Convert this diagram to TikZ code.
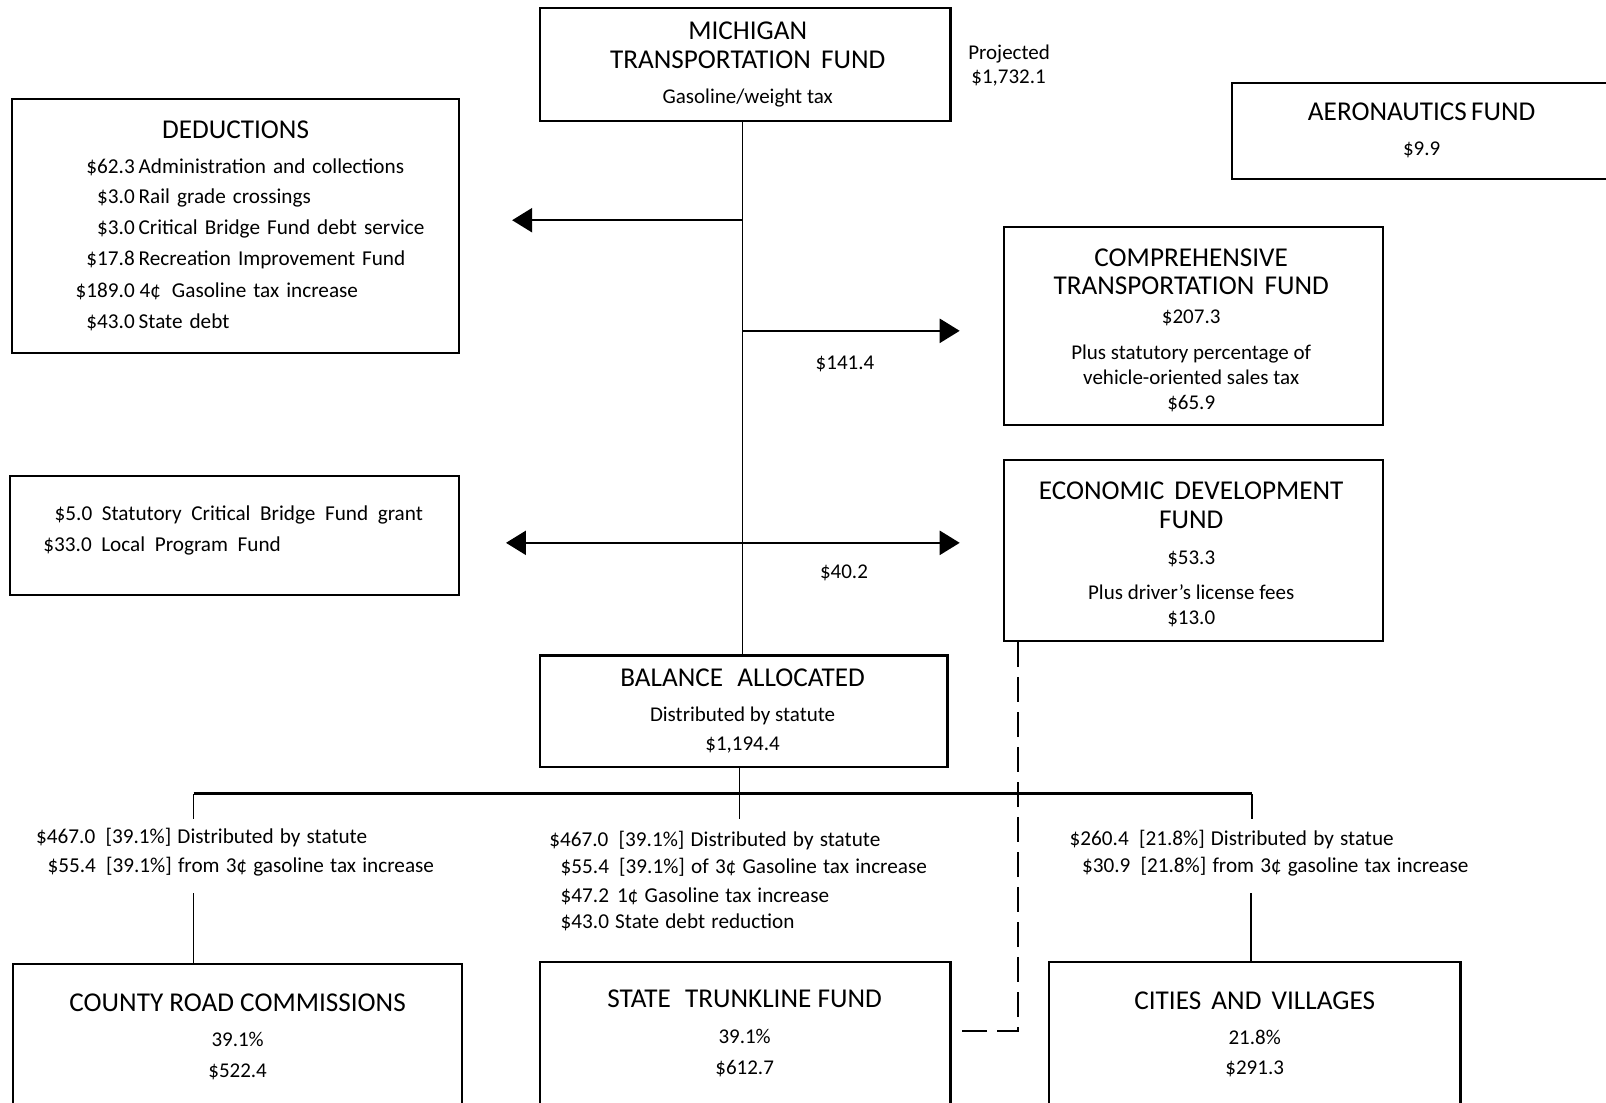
\documentclass[tikz,border=0pt]{standalone}
\usepackage{fontspec}
\setmainfont{Carlito}
\usetikzlibrary{arrows.meta,fit}
\newcommand\widesp{\spaceskip=3.5pt plus 1pt\relax}
\newcommand\labelSp{\spaceskip=3.1pt plus 1pt\relax}
\newcommand\widerSp{\spaceskip=4.8pt plus 1pt\relax}
\begin{document}
\begin{tikzpicture}[x=0.5121pt,y=-0.5121pt,
  box/.style={draw,line width=1.1pt,inner sep=0pt},
  ttl/.style={font=\fontsize{13.6}{15}\selectfont,anchor=base,inner sep=0pt},
  txt/.style={font=\fontsize{10.5}{12}\selectfont,anchor=base,inner sep=0pt},
  txtl/.style={txt,anchor=base west},
  txtw/.style={txtl,font=\fontsize{10.6}{12}\selectfont\widesp},
  txtb/.style={txtl,font=\fontsize{10.6}{12}\selectfont\labelSp},
  txtr/.style={txt,anchor=base east,font=\fontsize{10.6}{12}\selectfont},
  flow/.style={line width=0.9pt},
  bar/.style={line width=1.7pt},
  bigarrow/.style={line width=1.2pt,-{Triangle[length=10pt,width=12pt]}},
  dblarrow/.style={line width=1.2pt,{Triangle[length=10pt,width=12pt]}-{Triangle[length=10pt,width=12pt]}},
  dashline/.style={line width=1pt,dash pattern=on 12.5pt off 5pt},
]
\clip (0,0) rectangle (1568,1076);
\fill[white] (0,0) rectangle (1568,1076);

% boxes
\node[box,fit={(527,8) (928,118)}] (mtf) {};
\node[box,fit={(1203,81) (1600,175)}] (aer) {};
\node[box,fit={(12,97) (448,345)}] (ded) {};
\node[box,fit={(980,222) (1350,415)}] (ctf) {};
\node[box,fit={(10,465) (448,581)}] (loc) {};
\node[box,fit={(980,449) (1350,626)}] (edf) {};
\node[box,fit={(527,640) (925,749)}] (bal) {};
\node[box,fit={(13,941) (451,1090)}] (crc) {};
\node[box,fit={(527,939) (928,1090)}] (stf) {};
\node[box,fit={(1024,939) (1426,1090)}] (cav) {};

% texts
\node[ttl] (mtf1) at (730,39) {MICHIGAN};
\node[ttl] (mtf2) at (730,67) {TRANSPORTATION\hspace{2pt} FUND};
\node[txt] (mtf3) at (730,101) {Gasoline/weight tax};
\node[txtl] (proj1) at (945,58) {Projected};
\node[txtl] (proj2) at (948,82) {\$1,732.1};

\node[ttl] (aer1) at (1388,118) {AERONAUTICS\hspace{-1pt} FUND};
\node[txt] (aer2) at (1388,152) {\$9.9};

\node[ttl] (ded0) at (230,135) {DEDUCTIONS};
\node[txtr] (da1) at (132,169) {\$62.3};
\node[txtw] (dd1) at (135,169) {Administration and collections};
\node[txtr] (da2) at (132,199) {\$3.0};
\node[txtw] (dd2) at (135,199) {Rail grade crossings};
\node[txtr] (da3) at (132,229) {\$3.0};
\node[txtw] (dd3) at (135,229) {Critical Bridge Fund debt service};
\node[txtr] (da4) at (132,259) {\$17.8};
\node[txtw] (dd4) at (135,259) {Recreation Improvement Fund};
\node[txtr] (da5) at (132,290) {\$189.0};
\node[txtw] (dd5) at (136,290) {4¢\hspace{2pt} Gasoline tax increase};
\node[txtr] (da6) at (132,321) {\$43.0};
\node[txtw] (dd6) at (135,321) {State debt};

\node[ttl] (ctf1) at (1163,260) {COMPREHENSIVE};
\node[ttl] (ctf2) at (1163,288) {TRANSPORTATION\hspace{2pt} FUND};
\node[txt] (ctf3) at (1163,316) {\$207.3};
\node[txt] (ctf4) at (1163,351) {Plus statutory percentage of};
\node[txt] (ctf5) at (1163,375) {vehicle-oriented sales tax};
\node[txt] (ctf6) at (1163,400) {\$65.9};
\node[txt] (l141) at (825,361) {\$141.4};

\node[txtl,font=\fontsize{10.6}{12}\selectfont\widerSp] (loc1) at (53,508) {\$5.0 Statutory Critical Bridge Fund grant};
\node[txtl,font=\fontsize{10.6}{12}\selectfont\widerSp] (loc2) at (42,538) {\$33.0 Local Program Fund};
\node[txt] (l402) at (824,565) {\$40.2};

\node[ttl] (edf1) at (1163,488) {ECONOMIC\hspace{2pt} DEVELOPMENT};
\node[ttl] (edf2) at (1163,516) {FUND};
\node[txt] (edf3) at (1163,551) {\$53.3};
\node[txt] (edf4) at (1163,585) {Plus driver’s license fees};
\node[txt] (edf5) at (1163,610) {\$13.0};

\node[ttl] (bal1) at (725,670) {BALANCE\hspace{4pt} ALLOCATED};
\node[txt] (bal2) at (725,704) {Distributed by statute};
\node[txt] (bal3) at (725,733) {\$1,194.4};

\node[txtb] (lc1) at (35,824) {\$467.0\hspace{2pt} [39.1\%] Distributed by statute};
\node[txtb] (lc2) at (46,852) {\$55.4\hspace{2pt} [39.1\%] from 3¢ gasoline tax increase};
\node[txtb] (lm1) at (536,826) {\$467.0\hspace{2pt} [39.1\%] Distributed by statute};
\node[txtb] (lm2) at (547,853) {\$55.4\hspace{2pt} [39.1\%] of 3¢ Gasoline tax increase};
\node[txtb] (lm3) at (547,881) {\$47.2\hspace{1pt} 1¢ Gasoline tax increase};
\node[txtb] (lm4) at (547,907) {\$43.0 State debt reduction};
\node[txtb] (lr1) at (1044,825) {\$260.4\hspace{2pt} [21.8\%] Distributed by statue};
\node[txtb] (lr2) at (1056,852) {\$30.9\hspace{2pt} [21.8\%] from 3¢ gasoline tax increase};

\node[ttl] (crc1) at (232,988) {COUNTY ROAD COMMISSIONS};
\node[txt] (crc2) at (232,1022) {39.1\%};
\node[txt] (crc3) at (232,1052) {\$522.4};
\node[ttl] (stf1) at (727,984) {STATE\hspace{4pt} TRUNKLINE FUND};
\node[txt] (stf2) at (727,1019) {39.1\%};
\node[txt] (stf3) at (727,1049) {\$612.7};
\node[ttl] (cav1) at (1225,986) {CITIES\hspace{2pt} AND\hspace{2pt} VILLAGES};
\node[txt] (cav2) at (1225,1020) {21.8\%};
\node[txt] (cav3) at (1225,1049) {\$291.3};

% coordinates for connectors
\coordinate (trx) at (725,0);
\coordinate (j1) at (725,215);
\coordinate (t1) at (500,215);
\coordinate (j2) at (725,323);
\coordinate (t2) at (937,323);
\coordinate (t3a) at (494,530);
\coordinate (t3b) at (937,530);
\coordinate (bx) at (722,0);
\coordinate (bL) at (189,775);
\coordinate (bR) at (1222,775);
\coordinate (bM) at (722,800);
\coordinate (dL) at (189,800);
\coordinate (dR) at (1222,800);
\coordinate (uL) at (189,872);
\coordinate (uR) at (1221,872);
\coordinate (dx) at (994,0);
\coordinate (dc) at (994,1007);
\coordinate (de) at (933,1007);

% connectors
\draw[flow] (mtf.south -| trx) -- (bal.north -| trx);
\draw[bigarrow] (j1) -- (t1);
\draw[bigarrow] (j2) -- (t2);
\draw[dblarrow] (t3a) -- (t3b);
\draw[flow] (bal.south -| bx) -- (bM);
\draw[bar] (bL) -- (bR);
\draw[flow] (bL) -- (dL);
\draw[flow] (bR) -- (dR);
\draw[flow] (uL) -- (crc.north -| uL);
\draw[flow] (uR) -- (cav.north -| uR);
\draw[dashline] (edf.south -| dx) -- (dc) -- (de);
\end{tikzpicture}
\end{document}
